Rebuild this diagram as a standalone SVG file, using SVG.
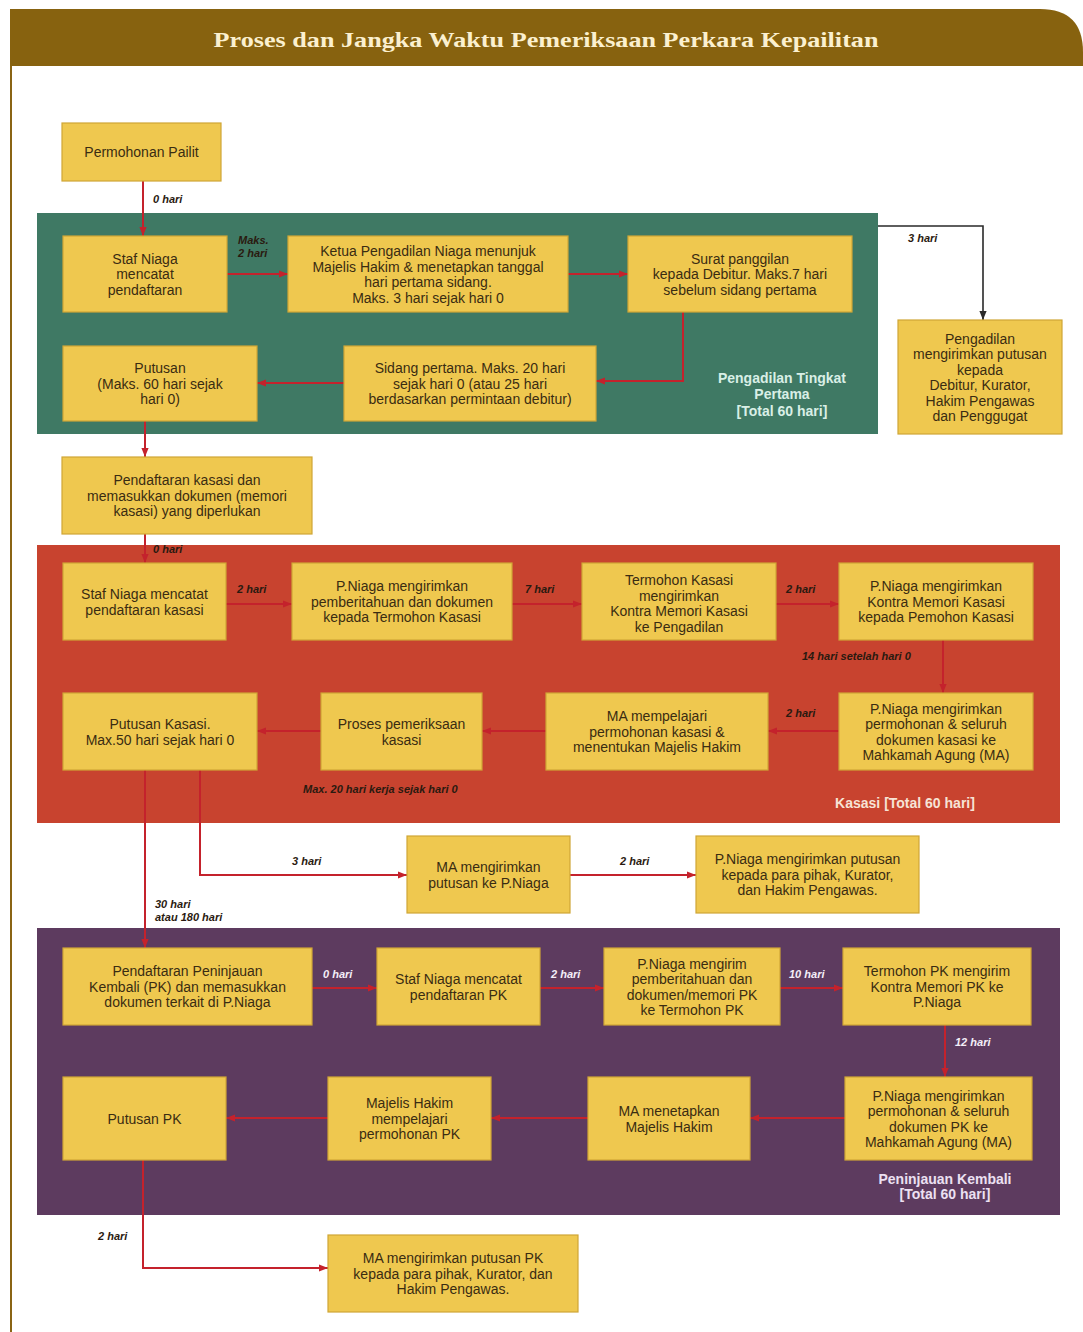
<svg xmlns="http://www.w3.org/2000/svg" width="1083" height="1332" viewBox="0 0 1083 1332">
<defs>
<marker id="ah" viewBox="0 0 10 10" refX="10" refY="5" markerUnits="userSpaceOnUse" markerWidth="9" markerHeight="9" orient="auto"><path d="M0,1 L10,5 L0,9 z" fill="#c4222c"/></marker>
<marker id="ahk" viewBox="0 0 10 10" refX="10" refY="5" markerUnits="userSpaceOnUse" markerWidth="9" markerHeight="9" orient="auto"><path d="M0,1 L10,5 L0,9 z" fill="#2a2a2a"/></marker>
</defs>
<style>
.box{fill:#efc84f;stroke:#cfa636;stroke-width:1.2}
.t{font-family:"Liberation Sans",Arial,sans-serif;font-size:14px;fill:#3a2c12;text-anchor:middle}
.lb{font-family:"Liberation Sans",Arial,sans-serif;font-size:11px;font-weight:bold;font-style:italic;fill:#2a1a10}
.lw{font-family:"Liberation Sans",Arial,sans-serif;font-size:11px;font-weight:bold;font-style:italic;fill:#f4eef8}
.sec{font-family:"Liberation Sans",Arial,sans-serif;font-size:14px;font-weight:bold;text-anchor:middle}
.c{fill:none;stroke:#c4222c;stroke-width:2;marker-end:url(#ah)}
.ck{fill:none;stroke:#2a2a2a;stroke-width:1.6;marker-end:url(#ahk)}
</style>
<rect width="1083" height="1332" fill="#ffffff"/>
<!-- frame and header -->
<line x1="11" y1="20" x2="11" y2="1332" stroke="#8a6414" stroke-width="2"/>
<path d="M10,9 H1040 Q1083,9 1083,52 V66 H10 Z" fill="#87620f"/>
<text x="546" y="47" font-family="Liberation Serif,serif" font-size="22" font-weight="bold" fill="#fbf0cf" text-anchor="middle" textLength="665" lengthAdjust="spacingAndGlyphs">Proses dan Jangka Waktu Pemeriksaan Perkara Kepailitan</text>

<!-- section backgrounds -->
<g id="sec-pertama"><rect x="37" y="213" width="841" height="221" fill="#3f7964"/>
<text class="sec" x="782" y="383" fill="#d9efe6">Pengadilan Tingkat</text>
<text class="sec" x="782" y="399" fill="#d9efe6" font-size="11">Pertama</text>
<text class="sec" x="782" y="416" fill="#d9efe6">[Total 60 hari]</text></g>
<g id="sec-kasasi"><rect x="37" y="545" width="1023" height="278" fill="#c8432f"/>
<text class="sec" x="905" y="808" fill="#f7e3d6">Kasasi [Total 60 hari]</text></g>
<g id="sec-pk"><rect x="37" y="928" width="1023" height="287" fill="#5d3b5f"/>
<text class="sec" x="945" y="1184" fill="#ece0f2">Peninjauan Kembali</text>
<text class="sec" x="945" y="1199" fill="#ece0f2">[Total 60 hari]</text></g>

<!-- connectors -->
<g id="connectors">
<path class="c" d="M143,181 V236"/>
<path class="c" d="M227,274 H288"/>
<path class="c" d="M568,274 H628"/>
<path class="c" d="M683,312 V381 H596"/>
<path class="c" d="M344,383 H257"/>
<path class="ck" d="M878,226 H983 V320"/>
<path class="c" d="M145,421 V457"/>
<path class="c" d="M145,534 V563"/>
<path class="c" d="M226,604 H292"/>
<path class="c" d="M512,604 H582"/>
<path class="c" d="M776,604 H839"/>
<path class="c" d="M943,640 V693"/>
<path class="c" d="M839,731 H768"/>
<path class="c" d="M546,731 H482"/>
<path class="c" d="M321,731 H257"/>
<path class="c" d="M145,770 V948"/>
<path class="c" d="M200,770 V875 H407"/>
<path class="c" d="M570,875 H696"/>
<path class="c" d="M312,988 H377"/>
<path class="c" d="M540,988 H604"/>
<path class="c" d="M780,988 H843"/>
<path class="c" d="M945,1025 V1077"/>
<path class="c" d="M845,1118 H750"/>
<path class="c" d="M588,1118 H491"/>
<path class="c" d="M328,1118 H226"/>
<path class="c" d="M143,1160 V1268 H328"/>
<!-- labels -->
<text class="lb" x="153" y="203">0 hari</text>
<text class="lb" x="238" y="244" font-size="9" fill="#1c2a44">Maks.</text>
<text class="lb" x="238" y="257" font-size="10" fill="#1c2a44">2  hari</text>
<text class="lb" x="908" y="242">3 hari</text>
<text class="lb" x="153" y="553">0 hari</text>
<text class="lb" x="237" y="593">2 hari</text>
<text class="lb" x="525" y="593">7 hari</text>
<text class="lb" x="786" y="593">2 hari</text>
<text class="lb" x="802" y="660">14  hari setelah hari 0</text>
<text class="lb" x="786" y="717">2 hari</text>
<text class="lb" x="303" y="793">Max. 20 hari kerja sejak hari 0</text>
<text class="lb" x="292" y="865">3 hari</text>
<text class="lb" x="620" y="865">2 hari</text>
<text class="lb" x="155" y="908">30 hari</text>
<text class="lb" x="155" y="921">atau 180 hari</text>
<text class="lw" x="323" y="978">0 hari</text>
<text class="lw" x="551" y="978">2 hari</text>
<text class="lw" x="789" y="978">10 hari</text>
<text class="lw" x="955" y="1046">12 hari</text>
<text class="lb" x="98" y="1240">2 hari</text>
</g>

<!-- nodes -->
<g id="n-permohonan"><rect class="box" x="62" y="123" width="159" height="58"/><text class="t" x="141.5" y="157">Permohonan Pailit</text></g>
<g id="n-staf1"><rect class="box" x="63" y="236" width="164" height="76"/><text class="t" x="145" y="263.5">Staf Niaga</text><text class="t" x="145" y="279">mencatat</text><text class="t" x="145" y="294.5">pendaftaran</text></g>
<g id="n-ketua"><rect class="box" x="288" y="236" width="280" height="76"/><text class="t" x="428" y="256">Ketua Pengadilan Niaga menunjuk</text><text class="t" x="428" y="271.5">Majelis Hakim &amp; menetapkan tanggal</text><text class="t" x="428" y="287">hari pertama sidang.</text><text class="t" x="428" y="302.5">Maks. 3 hari sejak hari 0</text></g>
<g id="n-surat"><rect class="box" x="628" y="236" width="224" height="76"/><text class="t" x="740" y="263.5">Surat panggilan</text><text class="t" x="740" y="279">kepada Debitur. Maks.7 hari</text><text class="t" x="740" y="294.5">sebelum sidang pertama</text></g>
<g id="n-sidang"><rect class="box" x="344" y="346" width="252" height="75"/><text class="t" x="470" y="373">Sidang pertama. Maks. 20 hari</text><text class="t" x="470" y="388.5">sejak hari 0 (atau 25 hari</text><text class="t" x="470" y="404">berdasarkan permintaan debitur)</text></g>
<g id="n-putusan1"><rect class="box" x="63" y="346" width="194" height="75"/><text class="t" x="160" y="373">Putusan</text><text class="t" x="160" y="388.5">(Maks. 60 hari sejak</text><text class="t" x="160" y="404">hari 0)</text></g>
<g id="n-pengadilan"><rect class="box" x="898" y="320" width="164" height="114"/><text class="t" x="980" y="343.5">Pengadilan</text><text class="t" x="980" y="359">mengirimkan putusan</text><text class="t" x="980" y="374.5">kepada</text><text class="t" x="980" y="390">Debitur, Kurator,</text><text class="t" x="980" y="405.5">Hakim Pengawas</text><text class="t" x="980" y="421">dan Penggugat</text></g>
<g id="n-daftar-kasasi"><rect class="box" x="62" y="457" width="250" height="77"/><text class="t" x="187" y="485">Pendaftaran kasasi dan</text><text class="t" x="187" y="500.5">memasukkan dokumen (memori</text><text class="t" x="187" y="516">kasasi) yang diperlukan</text></g>
<g id="n-staf-kasasi"><rect class="box" x="63" y="563" width="163" height="77"/><text class="t" x="144.5" y="599">Staf Niaga mencatat</text><text class="t" x="144.5" y="614.5">pendaftaran kasasi</text></g>
<g id="n-pniaga-kasasi1"><rect class="box" x="292" y="563" width="220" height="77"/><text class="t" x="402" y="591">P.Niaga mengirimkan</text><text class="t" x="402" y="606.5">pemberitahuan dan dokumen</text><text class="t" x="402" y="622">kepada Termohon Kasasi</text></g>
<g id="n-termohon-kasasi"><rect class="box" x="582" y="563" width="194" height="77"/><text class="t" x="679" y="585">Termohon Kasasi</text><text class="t" x="679" y="600.5">mengirimkan</text><text class="t" x="679" y="616">Kontra Memori Kasasi</text><text class="t" x="679" y="631.5">ke Pengadilan</text></g>
<g id="n-pniaga-kontra"><rect class="box" x="839" y="563" width="194" height="77"/><text class="t" x="936" y="591">P.Niaga mengirimkan</text><text class="t" x="936" y="606.5">Kontra Memori Kasasi</text><text class="t" x="936" y="622">kepada Pemohon Kasasi</text></g>
<g id="n-pniaga-ma"><rect class="box" x="839" y="693" width="194" height="77"/><text class="t" x="936" y="713.5">P.Niaga mengirimkan</text><text class="t" x="936" y="729">permohonan &amp; seluruh</text><text class="t" x="936" y="744.5">dokumen kasasi ke</text><text class="t" x="936" y="760">Mahkamah Agung (MA)</text></g>
<g id="n-ma-pelajari"><rect class="box" x="546" y="693" width="222" height="77"/><text class="t" x="657" y="721">MA mempelajari</text><text class="t" x="657" y="736.5">permohonan kasasi &amp;</text><text class="t" x="657" y="752">menentukan Majelis Hakim</text></g>
<g id="n-proses"><rect class="box" x="321" y="693" width="161" height="77"/><text class="t" x="401.5" y="729">Proses pemeriksaan</text><text class="t" x="401.5" y="744.5">kasasi</text></g>
<g id="n-putusan-kasasi"><rect class="box" x="63" y="693" width="194" height="77"/><text class="t" x="160" y="729">Putusan Kasasi.</text><text class="t" x="160" y="744.5">Max.50 hari sejak hari 0</text></g>
<g id="n-ma-kirim"><rect class="box" x="407" y="836" width="163" height="77"/><text class="t" x="488.5" y="872">MA mengirimkan</text><text class="t" x="488.5" y="887.5">putusan ke P.Niaga</text></g>
<g id="n-pniaga-putusan"><rect class="box" x="696" y="836" width="223" height="77"/><text class="t" x="807.5" y="864">P.Niaga mengirimkan putusan</text><text class="t" x="807.5" y="879.5">kepada para pihak, Kurator,</text><text class="t" x="807.5" y="895">dan Hakim Pengawas.</text></g>
<g id="n-daftar-pk"><rect class="box" x="63" y="948" width="249" height="77"/><text class="t" x="187.5" y="976">Pendaftaran Peninjauan</text><text class="t" x="187.5" y="991.5">Kembali (PK) dan memasukkan</text><text class="t" x="187.5" y="1007">dokumen terkait di P.Niaga</text></g>
<g id="n-staf-pk"><rect class="box" x="377" y="948" width="163" height="77"/><text class="t" x="458.5" y="984">Staf Niaga mencatat</text><text class="t" x="458.5" y="999.5">pendaftaran PK</text></g>
<g id="n-pniaga-pk1"><rect class="box" x="604" y="948" width="176" height="77"/><text class="t" x="692" y="968.5">P.Niaga mengirim</text><text class="t" x="692" y="984">pemberitahuan dan</text><text class="t" x="692" y="999.5">dokumen/memori PK</text><text class="t" x="692" y="1015">ke Termohon PK</text></g>
<g id="n-termohon-pk"><rect class="box" x="843" y="948" width="188" height="77"/><text class="t" x="937" y="976">Termohon PK mengirim</text><text class="t" x="937" y="991.5">Kontra Memori PK ke</text><text class="t" x="937" y="1007">P.Niaga</text></g>
<g id="n-pniaga-pk2"><rect class="box" x="845" y="1077" width="187" height="83"/><text class="t" x="938.5" y="1100.5">P.Niaga mengirimkan</text><text class="t" x="938.5" y="1116">permohonan &amp; seluruh</text><text class="t" x="938.5" y="1131.5">dokumen PK ke</text><text class="t" x="938.5" y="1147">Mahkamah Agung (MA)</text></g>
<g id="n-ma-tetapkan"><rect class="box" x="588" y="1077" width="162" height="83"/><text class="t" x="669" y="1116">MA menetapkan</text><text class="t" x="669" y="1131.5">Majelis Hakim</text></g>
<g id="n-majelis"><rect class="box" x="328" y="1077" width="163" height="83"/><text class="t" x="409.5" y="1108">Majelis Hakim</text><text class="t" x="409.5" y="1123.5">mempelajari</text><text class="t" x="409.5" y="1139">permohonan PK</text></g>
<g id="n-putusan-pk"><rect class="box" x="63" y="1077" width="163" height="83"/><text class="t" x="144.5" y="1123.5">Putusan PK</text></g>
<g id="n-ma-putusan-pk"><rect class="box" x="328" y="1235" width="250" height="77"/><text class="t" x="453" y="1263">MA mengirimkan putusan PK</text><text class="t" x="453" y="1278.5">kepada para pihak, Kurator, dan</text><text class="t" x="453" y="1294">Hakim Pengawas.</text></g>
</svg>
